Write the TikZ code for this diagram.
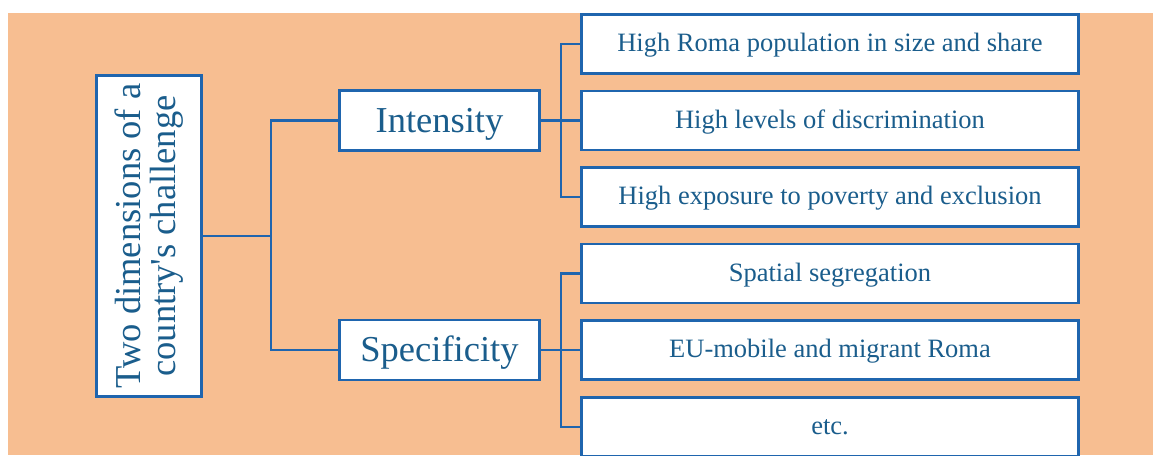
\documentclass[tikz,border=0pt]{standalone}
\usepackage{fontspec}
\setmainfont{Liberation Serif}[Ligatures=TeXOff]
\definecolor{peach}{HTML}{F7BE91}
\definecolor{lineblue}{HTML}{1F65AE}
\definecolor{txtblue}{HTML}{1A5D8C}
\tikzset{
  boxbase/.style={draw=lineblue, line width=2.6pt, fill=white, inner sep=0pt, text=txtblue, align=center},
  leaf/.style={boxbase, minimum width=497pt, minimum height=59pt, font=\fontsize{26.5}{30}\selectfont, text height=18.5pt, text depth=2.6pt},
  mid/.style={boxbase, minimum width=200pt, minimum height=60pt, font=\fontsize{36.5}{40}\selectfont, text height=27.4pt, text depth=3.6pt},
  rootbox/.style={boxbase, rotate=90, minimum width=321pt, minimum height=105pt, font=\fontsize{36.5}{35.5}\selectfont},
  conn/.style={draw=lineblue, line width=2.6pt}
}
\begin{document}
\begin{tikzpicture}[x=1pt,y=-1pt]
\useasboundingbox (0,0) rectangle (1153,455);
\clip (0,0) rectangle (1153,455);
\fill[peach] (8,13) rectangle (1153,455);

\coordinate (j1) at (271,236);
\coordinate (j2) at (561,120.5);
\coordinate (j3) at (561,350);

\draw[conn] (149,236) -- (j1);
\draw[conn] (j1) |- (439.5,120.5);
\draw[conn] (j1) |- (439.5,350);
\draw[conn] (439.5,120.5) -- (830,120.5);
\draw[conn] (439.5,350) -- (830,350);
\draw[conn] (j2) |- (830,44);
\draw[conn] (j2) |- (830,197);
\draw[conn] (j3) |- (830,273.5);
\draw[conn] (j3) |- (830,427);

\node[rootbox] (root) at (149,236) {Two dimensions of a\\country's challenge};
\node[mid] (int) at (439.5,120.5) {Intensity};
\node[mid] (spec) at (439.5,350) {Specificity};

\node[leaf] (a1) at (830,44) {High Roma population in size and share};
\node[leaf] (a2) at (830,120.5) {High levels of discrimination};
\node[leaf] (a3) at (830,197) {High exposure to poverty and exclusion};
\node[leaf] (b1) at (830,273.5) {Spatial segregation};
\node[leaf] (b2) at (830,350) {EU-mobile and migrant Roma};
\node[leaf] (b3) at (830,427) {etc.};
\end{tikzpicture}
\end{document}
